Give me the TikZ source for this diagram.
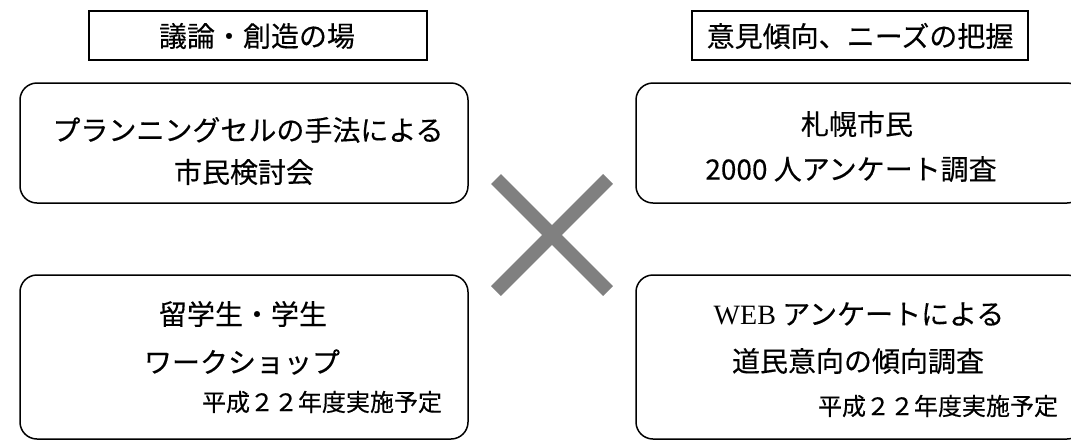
\documentclass[tikz,border=0pt]{standalone}
\usepackage{fontspec}
\setmainfont{Noto Sans CJK JP}[FakeBold=0.3]
\newfontfamily\webfont{Liberation Serif}
\definecolor{xgray}{RGB}{128,128,128}
\begin{document}
\begin{tikzpicture}[x=1pt,y=-1pt,
  hdr/.style={draw=black,line width=1.5pt,inner sep=0pt,minimum height=49pt},
  rbox/.style={draw=black,line width=1.5pt,rounded corners=17pt,inner sep=0pt,minimum width=448pt},
  txt/.style={inner sep=0pt,font=\fontsize{28}{33}\selectfont},
  small/.style={inner sep=0pt,font=\fontsize{24}{28}\selectfont},
  cross/.style={draw=xgray,line width=14pt}]
\useasboundingbox (0,0) rectangle (1071,440);
\clip (0,0) rectangle (1071,440);
% headers
\node[hdr,minimum width=338pt] (hL) at (258,35.5) {};
\node[txt] (hLt) at (257,36) {議論・創造の場};
\node[hdr,minimum width=336pt] (hR) at (860,35.5) {};
\node[txt] (hRt) at (860,36) {意見傾向、ニーズの把握};
% boxes
\node[rbox,minimum height=120pt] (tl) at (244,143) {};
\node[rbox,minimum height=120pt] (tr) at (860,143) {};
\node[rbox,minimum height=164pt] (bl) at (244,357) {};
\node[rbox,minimum height=164pt] (br) at (860,357) {};
% texts
\node[txt] (tl1) at (248,130) {プランニングセルの手法による};
\node[txt] (tl2) at (244,172) {市民検討会};
\node[txt] (tr1) at (857,124) {札幌市民};
\node[txt] (tr2) at (851,169) {2000 人アンケート調査};
\node[txt] (bl1) at (243,314) {留学生・学生};
\node[txt] (bl2) at (242,362) {ワークショップ};
\node[small] (bl3) at (322,402) {平成２２年度実施予定};
\node[txt] (br1) at (859,314) {{\webfont WEB} アンケートによる};
\node[txt] (br2) at (858,361) {道民意向の傾向調査};
\node[small] (br3) at (938,406) {平成２２年度実施予定};
% cross
\coordinate (c1) at (496,179);
\coordinate (c2) at (608,291);
\coordinate (c3) at (608,179);
\coordinate (c4) at (496,291);
\draw[cross] (c1) -- (c2);
\draw[cross] (c3) -- (c4);
\end{tikzpicture}
\end{document}
